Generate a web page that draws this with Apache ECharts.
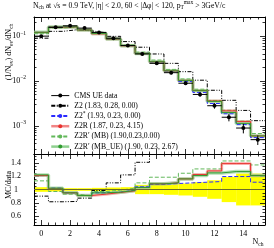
<!DOCTYPE html>
<html><head><meta charset="utf-8">
<script src="https://cdn.jsdelivr.net/npm/echarts@6/dist/echarts.min.js"></script>
<style>html,body{margin:0;padding:0;background:#fff}#c{width:274px;height:248px}</style>
</head><body><div id="c"></div>
<script>
// ---- data ----
const bins = [0,1,2,3,4,5,6,7,8,9,10,11,12,13,14,15];
const dataVals   = [0.100, 0.157, 0.170, 0.151, 0.121, 0.090, 0.062, 0.040, 0.0247, 0.0153, 0.0089, 0.0050, 0.0028, 0.00155, 0.00089, 0.00049];
const dataRelErr = [0.035, 0.03, 0.02, 0.02, 0.025, 0.03, 0.035, 0.07, 0.07, 0.08, 0.09, 0.11, 0.14, 0.19, 0.24, 0.24];

const mcZ2      = [0.090, 0.128, 0.139, 0.131, 0.119, 0.099, 0.0756, 0.0566, 0.040, 0.0247, 0.0161, 0.0104, 0.0062, 0.0037, 0.0022, 0.0013];
const mcZ2star  = [0.121, 0.160, 0.1615, 0.1374, 0.115, 0.0864, 0.0614, 0.0416, 0.0267, 0.0167, 0.0098, 0.00555, 0.00314, 0.00185, 0.00106, 0.000544];
const mcZ2R     = [0.121, 0.1586, 0.1615, 0.1374, 0.1125, 0.0860, 0.0608, 0.0412, 0.0268, 0.0168, 0.0103, 0.00613, 0.00358, 0.00215, 0.00124, 0.000593];
const mcZ2RpMB  = [0.113, 0.152, 0.158, 0.136, 0.117, 0.0891, 0.0632, 0.044, 0.0293, 0.0181, 0.0111, 0.00655, 0.00367, 0.00222, 0.00127, 0.00067];
const mcZ2RpUE  = [0.122, 0.160, 0.1615, 0.1374, 0.115, 0.0864, 0.0611, 0.0412, 0.0268, 0.0168, 0.0103, 0.00605, 0.0035, 0.00197, 0.00113, 0.000593];

const ratioZ2     = [0.90, 0.815, 0.82, 0.87, 0.985, 1.10, 1.22, 1.41, 1.62, 1.61, 1.81, 2.08, 2.21, 2.39, 2.47, 2.65];
const ratioZ2star = [1.21, 1.02, 0.95, 0.91, 0.95, 0.96, 0.99, 1.04, 1.08, 1.09, 1.10, 1.11, 1.12, 1.195, 1.195, 1.11];
const ratioZ2R    = [1.21, 1.01, 0.95, 0.91, 0.93, 0.955, 0.98, 1.03, 1.085, 1.10, 1.16, 1.225, 1.28, 1.39, 1.39, 1.21];
const ratioZ2RpMB = [1.13, 0.97, 0.93, 0.90, 0.97, 0.99, 1.02, 1.10, 1.185, 1.185, 1.245, 1.31, 1.31, 1.43, 1.43, 1.37];
const ratioZ2RpUE = [1.22, 1.02, 0.95, 0.91, 0.95, 0.96, 0.985, 1.03, 1.085, 1.10, 1.16, 1.21, 1.25, 1.27, 1.27, 1.21];

const names = ['CMS UE data', 'Z2 (1.83, 0.28, 0.00)', 'Z2* (1.93, 0.23, 0.00)', 'Z2R (1.87, 0.23, 4.15)', 'Z2R\u2032 (MB) (1.90,0.23,0.00)', 'Z2R\u2032 (MB_UE) (1.90, 0.23, 2.67)'];
const xMajor = [0,2,4,6,8,10,12,14];
const yRatioMajor = [0.6,0.8,1.0,1.2,1.4];

// ---- axis tick helpers ----
const xMinor = []; for (let k = 0; k <= 31; k++) { const v = -0.5 + k*0.5; if (k>0 && k<32 && Math.abs(v%2) > 1e-9 && v < 15.5) xMinor.push(v); }
const LOGMIN = Math.pow(10,-3.63), LOGMAX = Math.pow(10,-0.573);
const logMinor = []; for (let e=-4;e<=-1;e++) for (let m=2;m<=9;m++){ const v = m*Math.pow(10,e); if (v>LOGMIN && v<LOGMAX) logMinor.push(+v.toPrecision(3)); }
const yRatioMinor = []; for (let k=10;k<=30;k++){ if (k%4!==0) yRatioMinor.push(+(k*0.05).toFixed(2)); }

const SERIF = 'Liberation Serif';
const C = {black:'#000', blue:'#2a2aff', red:'#e8322e', redBand:'rgba(245,130,130,0.55)', gDash:'#62b85a', gSolid:'#2f9a2f', gBand:'rgba(150,210,150,0.7)'};

function steps(vals){ const pts=[]; vals.forEach((v,i)=>{ pts.push([bins[i]-0.5, v]); pts.push([bins[i]+0.5, v]); }); return pts; }

function xAx(grid, pos, vals, len, showLine, labels){
  return {gridIndex:grid, type:'value', min:-0.5, max:15.5, position:pos,
    axisLine:{show:showLine, onZero:false, lineStyle:{color:'#000', width:1}},
    axisTick:{show:true, inside:true, length:len, customValues:vals, lineStyle:{color:'#000', width:0.8}},
    axisLabel: labels ? {show:true, customValues:xMajor, margin:5, fontFamily:SERIF, fontSize:8, color:'#000'} : {show:false},
    splitLine:{show:false}};
}
function yLog(pos, vals, len, showLine, labels){
  const ax = {gridIndex:0, type:'log', logBase:10, min:LOGMIN, max:LOGMAX, position:pos,
    axisLine:{show:showLine, onZero:false, lineStyle:{color:'#000', width:1}},
    axisTick:{show:true, inside:true, length:len, lineStyle:{color:'#000', width:0.8}},
    axisLabel:{show:false}, splitLine:{show:false}};
  if (vals) ax.axisTick.customValues = vals;
  if (labels) ax.axisLabel = {show:true, margin:8, fontFamily:SERIF, fontSize:8, color:'#000',
    formatter: v => { const l = Math.log10(v), e = Math.round(l); if (Math.abs(l-e) > 1e-6) return ''; return '{b|10}{s|' + (e<0?'\u2212':'') + Math.abs(e) + '}'; },
    rich:{b:{fontFamily:SERIF, fontSize:8, lineHeight:12}, s:{fontFamily:SERIF, fontSize:5.5, lineHeight:6, verticalAlign:'top'}}};
  return ax;
}
function yLin(pos, vals, len, showLine, labels){
  return {gridIndex:1, type:'value', min:0.465, max:1.535, position:pos,
    axisLine:{show:showLine, onZero:false, lineStyle:{color:'#000', width:1}},
    axisTick:{show:true, inside:true, length:len, customValues:vals, lineStyle:{color:'#000', width:0.8}},
    axisLabel: labels ? {show:true, customValues:yRatioMajor, margin:18, align:'center', fontFamily:SERIF, fontSize:8, color:'#000', formatter: v => String(Math.round(v*10)/10)} : {show:false},
    splitLine:{show:false}};
}

function stepLine(name, vals, xi, yi, color, type, width, z){
  return {name:name, type:'line', xAxisIndex:xi, yAxisIndex:yi, data:steps(vals), showSymbol:false, symbol:'none',
    lineStyle:{color:color, width:width, type:type}, itemStyle:{color:color}, z:z, silent:true, clip:true};
}

const errData = bins.map((b,i)=>[b, dataVals[i], dataVals[i]*(1-dataRelErr[i]), dataVals[i]*(1+dataRelErr[i])]);
const bandData = bins.map((b,i)=>[b, 1-dataRelErr[i], 1+dataRelErr[i]]);

const dashDot = [4,1.5,1,1.5,1,1.5];
const dash = [4,2];

const option = {
  animation:false,
  grid:[{left:34, right:9, top:17, height:137}, {left:34, right:9, top:154, height:71}],
  xAxis:[ xAx(0,'bottom',xMajor,5,true,false), xAx(0,'bottom',xMinor,2.5,false,false), xAx(0,'top',xMajor,5,true,false), xAx(0,'top',xMinor,2.5,false,false),
          xAx(1,'bottom',xMajor,5,true,true), xAx(1,'bottom',xMinor,2.5,false,false), xAx(1,'top',xMajor,5,true,false), xAx(1,'top',xMinor,2.5,false,false) ],
  yAxis:[ yLog('left',null,5,true,true), yLog('left',logMinor,2.5,false,false), yLog('right',null,5,true,false), yLog('right',logMinor,2.5,false,false),
          yLin('left',yRatioMajor,5,true,true), yLin('left',yRatioMinor,2.5,false,false), yLin('right',yRatioMajor,5,true,false), yLin('right',yRatioMinor,2.5,false,false) ],
  legend:{left:45, top:85.5, orient:'vertical', itemWidth:18, itemHeight:5, itemGap:0, selectedMode:false,
    textStyle:{fontFamily:SERIF, fontSize:7.7, lineHeight:10.2, color:'#000', rich:{sup:{fontFamily:SERIF, fontSize:5.5, lineHeight:6, verticalAlign:'top'}}},
    formatter: n => n.replace('*','{sup|*}'),
    data:[
      {name:names[0], lineStyle:{color:'#000', width:1, opacity:1}},
      {name:names[1]},
      {name:names[2]},
      {name:names[3], lineStyle:{color:'rgba(240,120,120,0.9)', width:2.5}},
      {name:names[4]},
      {name:names[5], lineStyle:{color:'#8fd08f', width:2.5}}
    ]},
  series:[
    // upper panel
    stepLine('bandR', mcZ2R, 0,0, C.redBand, 'solid', 3, 1),
    stepLine('bandG', mcZ2RpUE, 0,0, C.gBand, 'solid', 3.5, 1),
    stepLine(names[1], mcZ2, 0,0, C.black, dashDot, 1, 3),
    stepLine(names[2], mcZ2star, 0,0, C.blue, dash, 1, 3),
    stepLine(names[4], mcZ2RpMB, 0,0, C.gDash, dash, 1, 3),
    stepLine(names[3], mcZ2R, 0,0, C.red, 'solid', 1, 4),
    stepLine(names[5], mcZ2RpUE, 0,0, C.gSolid, 'solid', 1, 5),
    {type:'custom', xAxisIndex:0, yAxisIndex:0, data:errData, encode:{x:0, y:[1,2,3]}, z:6, silent:true,
      renderItem:(params, api)=>{
        const x=api.value(0), v=api.value(1), lo=api.value(2), hi=api.value(3);
        const a=api.coord([x-0.5,v]), b=api.coord([x+0.5,v]), c=api.coord([x,lo]), d=api.coord([x,hi]);
        return {type:'group', children:[
          {type:'line', shape:{x1:a[0],y1:a[1],x2:b[0],y2:b[1]}, style:{stroke:'#000', lineWidth:1}},
          {type:'line', shape:{x1:c[0],y1:c[1],x2:d[0],y2:d[1]}, style:{stroke:'#000', lineWidth:1}}]};
      }},
    {name:names[0], type:'line', xAxisIndex:0, yAxisIndex:0, data:bins.map((b,i)=>[b, dataVals[i]]), symbol:'circle', symbolSize:4, showSymbol:true,
      itemStyle:{color:'#000'}, lineStyle:{opacity:0, color:'#000', width:1}, z:7, silent:true},
    // lower panel
    {type:'custom', xAxisIndex:4, yAxisIndex:4, data:bandData, encode:{x:0, y:[1,2]}, z:0, silent:true,
      renderItem:(params, api)=>{
        const x=api.value(0), lo=api.value(1), hi=api.value(2);
        const p1=api.coord([x-0.5,hi]), p2=api.coord([x+0.5,lo]);
        return {type:'rect', shape:{x:p1[0], y:p1[1], width:p2[0]-p1[0], height:p2[1]-p1[1]}, style:{fill:'#ffff00'}};
      }},
    Object.assign(stepLine('refOne', [], 4,4, '#000', 'solid', 1, 1), {data:[], markLine:{silent:true, symbol:'none', label:{show:false}, data:[{yAxis:1}], lineStyle:{color:'#6b6b2a', type:'solid', width:1}}}),
    stepLine('bandR2', ratioZ2R, 4,4, C.redBand, 'solid', 3, 2),
    stepLine('bandG2', ratioZ2RpUE, 4,4, C.gBand, 'solid', 3.5, 2),
    stepLine(names[1]+' r', ratioZ2, 4,4, C.black, dashDot, 1, 3),
    stepLine(names[2]+' r', ratioZ2star, 4,4, C.blue, dash, 1, 3),
    stepLine(names[4]+' r', ratioZ2RpMB, 4,4, C.gDash, dash, 1, 3),
    stepLine(names[3]+' r', ratioZ2R, 4,4, C.red, 'solid', 1, 4),
    stepLine(names[5]+' r', ratioZ2RpUE, 4,4, C.gSolid, 'solid', 1, 5)
  ],
  graphic:[
    {type:'text', left:33, top:0, silent:true, style:{text:'N{sub|ch} at \u221As = 0.9 TeV, |\u03B7| < 2.0, 60 < |\u0394\u03C6| < 120, p{sub|T}{sup|max} > 3GeV/c',
      fontFamily:SERIF, fontSize:7.7, lineHeight:11, fill:'#000',
      rich:{sub:{fontFamily:SERIF, fontSize:5.5, lineHeight:6, verticalAlign:'bottom'}, sup:{fontFamily:SERIF, fontSize:5.5, lineHeight:6, verticalAlign:'top'}}}},
    {type:'text', x:9, y:52, rotation:Math.PI/2, silent:true, style:{text:'(1/N{sub|ev}) dN{sub|ev}/dN{sub|ch}', align:'center', verticalAlign:'middle',
      fontFamily:SERIF, fontSize:8, lineHeight:11, fill:'#000',
      rich:{sub:{fontFamily:SERIF, fontSize:5.5, lineHeight:6, verticalAlign:'bottom'}}}},
    {type:'text', x:9, y:185, rotation:Math.PI/2, silent:true, style:{text:'MC/data', align:'center', verticalAlign:'middle', fontFamily:SERIF, fontSize:8, fill:'#000'}},
    {type:'text', x:258, y:242, silent:true, style:{text:'N{sub|ch}', align:'center', verticalAlign:'middle', fontFamily:SERIF, fontSize:8, lineHeight:11, fill:'#000',
      rich:{sub:{fontFamily:SERIF, fontSize:5.5, lineHeight:6, verticalAlign:'bottom'}}}}
  ]
};
const chart = echarts.init(document.getElementById('c'), null, {renderer:'canvas', width:274, height:248});
chart.setOption(option);
</script>
</body></html>
